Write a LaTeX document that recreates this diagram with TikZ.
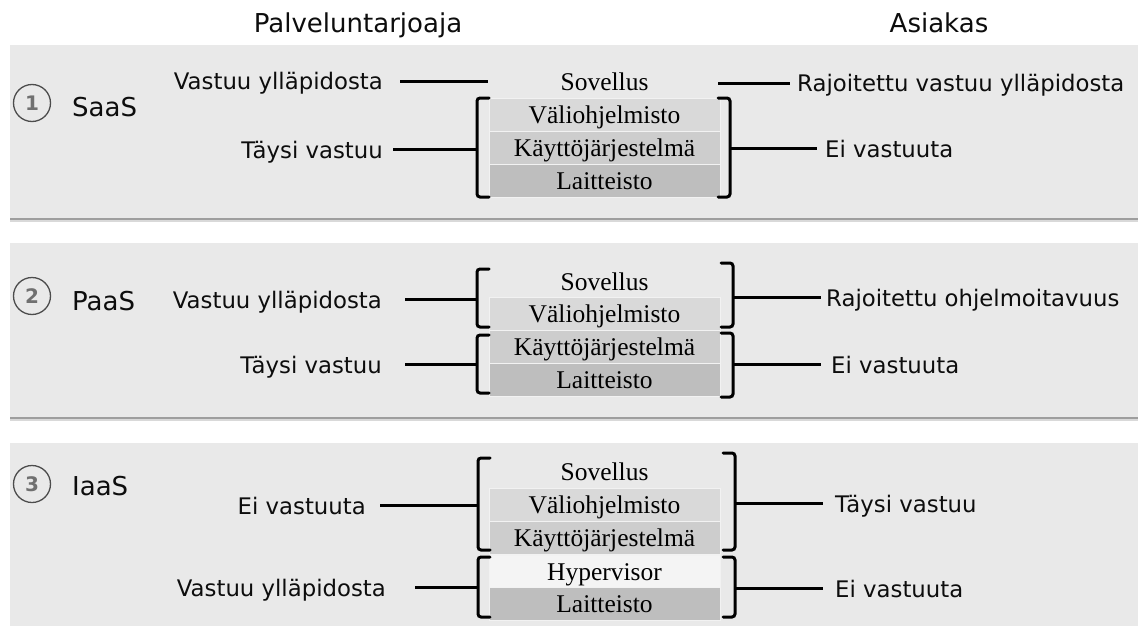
\documentclass[tikz,border=0pt]{standalone}
\usepackage{fontspec}
\setmainfont{Liberation Serif}
\newfontfamily\labelfont{DejaVu Sans}
\definecolor{panelbg}{HTML}{E9E9E9}
\definecolor{rowmid}{HTML}{D9D9D9}
\definecolor{rowos}{HTML}{CDCDCD}
\definecolor{rowhw}{HTML}{BEBEBE}
\definecolor{rowhyp}{HTML}{F4F4F4}
\definecolor{numgray}{HTML}{707070}
\begin{document}
\begin{tikzpicture}[x=1pt,y=-1pt,
  lbl/.style={font=\labelfont\fontsize{22.8}{26}\selectfont, inner sep=0pt, text=black!95},
  head/.style={font=\labelfont\fontsize{26}{30}\selectfont, inner sep=0pt, text=black!95},
  kind/.style={font=\labelfont\fontsize{26}{30}\selectfont, inner sep=0pt, text=black!95, anchor=base west},
  num/.style={circle, draw=black!70, line width=1.3pt, minimum size=37pt, inner sep=0pt,
              font=\labelfont\bfseries\fontsize{20}{24}\selectfont, text=numgray},
  layer/.style={minimum width=231pt, minimum height=33pt, inner sep=0pt,
                text height=17pt, text depth=0pt, draw=white!40!panelbg, line width=0.6pt,
                font=\fontsize{25.5}{28}\selectfont, text=black},
  bare/.style={layer, draw=none},
  brace/.style={line width=3pt, rounded corners=3pt, line cap=round},
  link/.style={line width=3pt}
]
\useasboundingbox (0,0) rectangle (1142,626);
\fill[white] (0,0) rectangle (1142,626);

% panels with a soft shadow underneath
\fill[panelbg] (10,45) rectangle (1138,218);
\draw[black!38, line width=2pt] (10,219) -- (1138,219);
\draw[black!15, line width=1.5pt] (10,221) -- (1138,221);
\fill[panelbg] (10,243) rectangle (1138,417);
\draw[black!38, line width=2pt] (10,418) -- (1138,418);
\draw[black!15, line width=1.5pt] (10,420) -- (1138,420);
\fill[panelbg] (10,443) rectangle (1138,626);

% column headings
\node[head, anchor=base] (hprov) at (358,33) {Palveluntarjoaja};
\node[head, anchor=base] (hcust) at (939,33) {Asiakas};

% ---------------- SaaS ----------------
\node[num] (n1) at (32,103) {1};
\node[kind] (k1) at (72,116) {SaaS};
\node[bare] (s1app) at (604.5,81.5) {Sovellus};
\node[layer, fill=rowmid] (s1mid) at (604.5,114.5) {Väliohjelmisto};
\node[layer, fill=rowos]  (s1os)  at (604.5,147.5) {Käyttöjärjestelmä};
\node[layer, fill=rowhw]  (s1hw)  at (604.5,180.5) {Laitteisto};

\node[lbl, anchor=base east] (s1la) at (383,89.5) {Vastuu ylläpidosta};
\node[lbl, anchor=base east] (s1lb) at (383,158) {Täysi vastuu};
\node[lbl, anchor=base west] (s1ra) at (797,91.5) {Rajoitettu vastuu ylläpidosta};
\node[lbl, anchor=base west] (s1rb) at (825,157) {Ei vastuuta};

\coordinate (s1la1) at (400,81);  \coordinate (s1la2) at (488,81);
\coordinate (s1lb1) at (393,149); \coordinate (s1lb2) at (477,149);
\coordinate (s1ra1) at (718,83);  \coordinate (s1ra2) at (790,83);
\coordinate (s1rb1) at (730,148); \coordinate (s1rb2) at (817,148);
\draw[link] (s1la1) -- (s1la2);
\draw[link] (s1lb1) -- (s1lb2);
\draw[link] (s1ra1) -- (s1ra2);
\draw[link] (s1rb1) -- (s1rb2);
\draw[brace] (489,98) -- (477,98) -- (477,197) -- (489,197);
\draw[brace] (718,98) -- (730,98) -- (730,197) -- (718,197);

% ---------------- PaaS ----------------
\node[num] (n2) at (32,296) {2};
\node[kind] (k2) at (72,310) {PaaS};
\node[bare] (s2app) at (604.5,281.5) {Sovellus};
\node[layer, fill=rowmid] (s2mid) at (604.5,314) {Väliohjelmisto};
\node[layer, fill=rowos]  (s2os)  at (604.5,346.5) {Käyttöjärjestelmä};
\node[layer, fill=rowhw]  (s2hw)  at (604.5,379.5) {Laitteisto};

\node[lbl, anchor=base east] (s2la) at (382,308) {Vastuu ylläpidosta};
\node[lbl, anchor=base east] (s2lb) at (382,373) {Täysi vastuu};
\node[lbl, anchor=base west] (s2ra) at (826,306) {Rajoitettu ohjelmoitavuus};
\node[lbl, anchor=base west] (s2rb) at (831,373) {Ei vastuuta};

\coordinate (s2la1) at (405,299); \coordinate (s2la2) at (477,299);
\coordinate (s2lb1) at (405,364); \coordinate (s2lb2) at (477,364);
\coordinate (s2ra1) at (733,297); \coordinate (s2ra2) at (821,297);
\coordinate (s2rb1) at (733,364); \coordinate (s2rb2) at (821,364);
\draw[link] (s2la1) -- (s2la2);
\draw[link] (s2lb1) -- (s2lb2);
\draw[link] (s2ra1) -- (s2ra2);
\draw[link] (s2rb1) -- (s2rb2);
\draw[brace] (489,269) -- (477,269) -- (477,327) -- (489,327);
\draw[brace] (489,335) -- (477,335) -- (477,393) -- (489,393);
\draw[brace] (721,263) -- (733,263) -- (733,327) -- (721,327);
\draw[brace] (721,333) -- (733,333) -- (733,397) -- (721,397);

% ---------------- IaaS ----------------
\node[num] (n3) at (32,484) {3};
\node[kind] (k3) at (72,495) {IaaS};
\node[bare] (s3app) at (604.5,472) {Sovellus};
\node[layer, fill=rowmid] (s3mid) at (604.5,504.5) {Väliohjelmisto};
\node[layer, fill=rowos]  (s3os)  at (604.5,538) {Käyttöjärjestelmä};
\node[layer, fill=rowhyp] (s3hyp) at (604.5,571.5) {Hypervisor};
\node[layer, fill=rowhw]  (s3hw)  at (604.5,604) {Laitteisto};

\node[lbl, anchor=base east] (s3la) at (366,514) {Ei vastuuta};
\node[lbl, anchor=base east] (s3lb) at (386,596) {Vastuu ylläpidosta};
\node[lbl, anchor=base west] (s3ra) at (835,512) {Täysi vastuu};
\node[lbl, anchor=base west] (s3rb) at (835,597) {Ei vastuuta};

\coordinate (s3la1) at (380,505); \coordinate (s3la2) at (478,505);
\coordinate (s3lb1) at (415,587); \coordinate (s3lb2) at (478,587);
\coordinate (s3ra1) at (735,503); \coordinate (s3ra2) at (823,503);
\coordinate (s3rb1) at (735,588); \coordinate (s3rb2) at (823,588);
\draw[link] (s3la1) -- (s3la2);
\draw[link] (s3lb1) -- (s3lb2);
\draw[link] (s3ra1) -- (s3ra2);
\draw[link] (s3rb1) -- (s3rb2);
\draw[brace] (490,458) -- (478,458) -- (478,550) -- (490,550);
\draw[brace] (490,557) -- (478,557) -- (478,617) -- (490,617);
\draw[brace] (723,453) -- (735,453) -- (735,550) -- (723,550);
\draw[brace] (723,557) -- (735,557) -- (735,617) -- (723,617);
\end{tikzpicture}
\end{document}
